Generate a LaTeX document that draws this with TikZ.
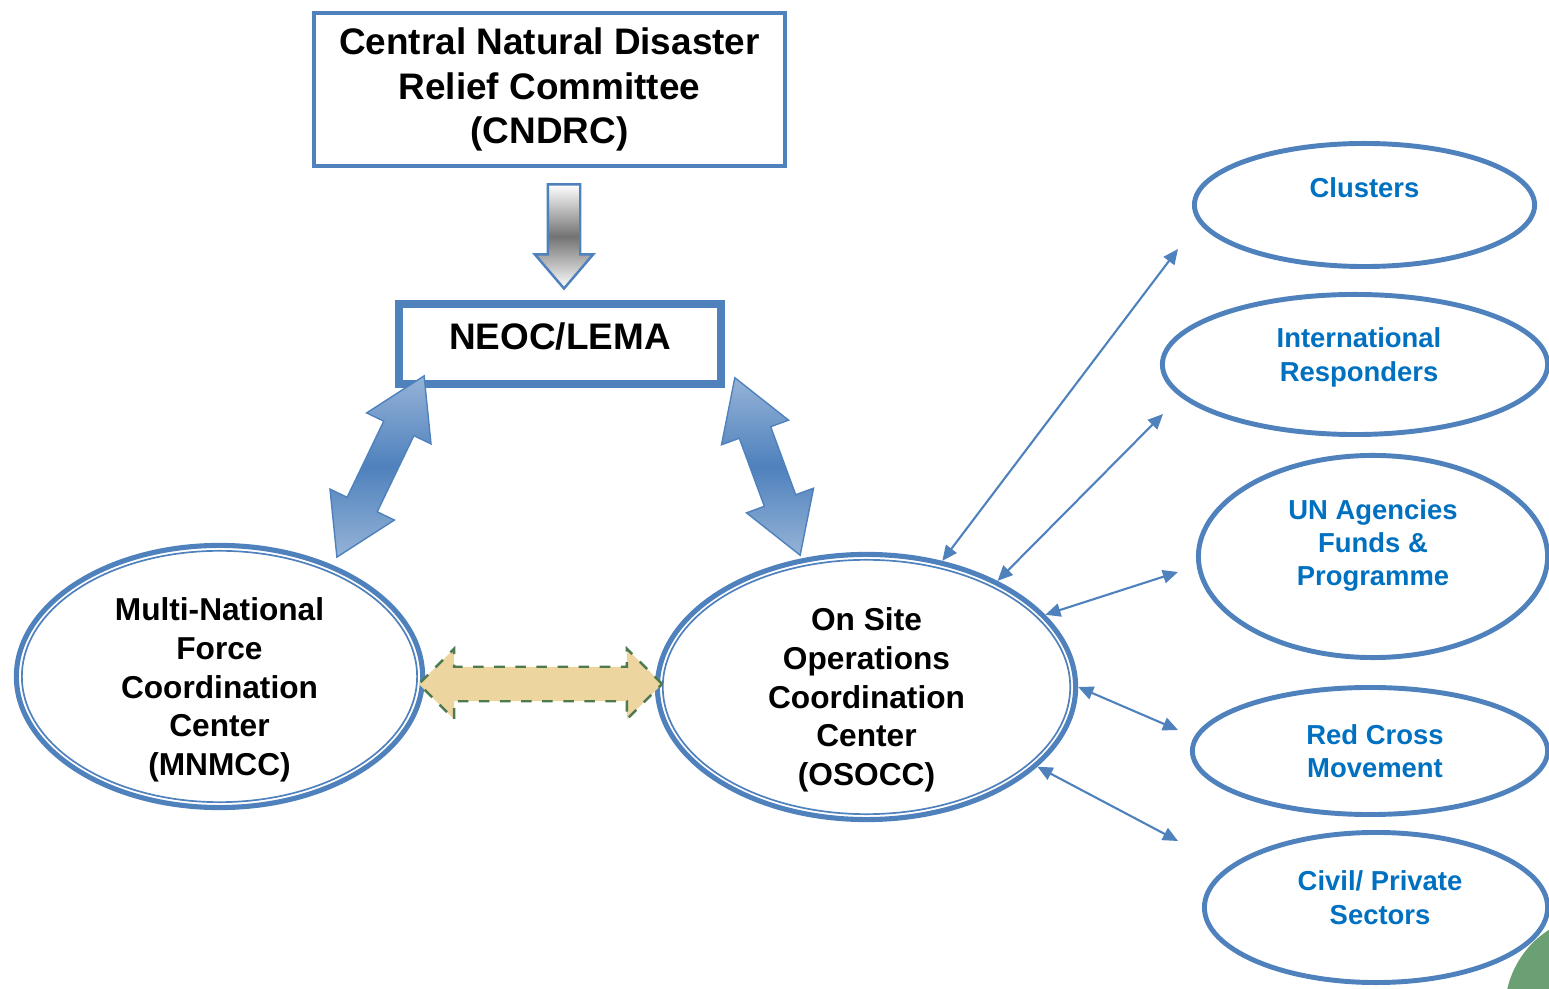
\documentclass[tikz,border=0pt]{standalone}
\usepackage{fontspec}
\setmainfont{Liberation Sans}
\usetikzlibrary{shapes.geometric,shapes.arrows,arrows.meta,calc}
\definecolor{lineBlue}{RGB}{79,129,189}
\definecolor{textBlue}{RGB}{0,112,192}
\definecolor{arrowLight}{RGB}{149,179,215}
\definecolor{tanFill}{RGB}{236,213,158}
\definecolor{dashGreen}{RGB}{78,122,80}
\definecolor{blobGreen}{RGB}{106,160,116}
\begin{document}
\begin{tikzpicture}
[x=0.01cm,y=-0.01cm,
  headBox/.style={draw=lineBlue,line width=1.15pt,minimum width=4.71cm,minimum height=1.53cm,inner sep=0pt,align=center,font=\fontsize{10.5}{12.6}\selectfont\bfseries},%
  neocBox/.style={draw=lineBlue,line width=2pt,minimum width=3.23cm,minimum height=0.81cm,inner sep=0pt,text depth=0.16cm,font=\fontsize{10.5}{12.6}\selectfont\bfseries},%
  centerOval/.style={ellipse,draw=lineBlue,line width=1.45pt,fill=white,inner sep=0pt},%
  innerLine/.style={draw=lineBlue,line width=0.48pt},%
  centerText/.style={align=center,font=\fontsize{9}{11}\selectfont\bfseries},%
  partnerOval/.style={ellipse,draw=lineBlue,line width=1.4pt,fill=white,inner sep=0pt},%
  partnerText/.style={align=center,text=textBlue,font=\fontsize{7.8}{9.5}\selectfont\bfseries},%
  thinLink/.style={{Triangle[length=4.3pt,width=3.8pt]}-{Triangle[length=4.3pt,width=3.8pt]},draw=lineBlue,line width=0.6pt},%
  grayArrow/.style={single arrow,shape border rotate=270,draw=lineBlue,line width=0.7pt,inner xsep=0.15cm,inner ysep=0pt,single arrow head extend=0.13cm,single arrow tip angle=81,minimum height=1.04cm,top color=white,bottom color=white,middle color=black!55},%
  blueArrow/.style={double arrow,draw=lineBlue,line width=0.4pt,inner xsep=0pt,inner ysep=0.16cm,double arrow head extend=0.19cm,double arrow tip angle=63,top color=arrowLight,bottom color=arrowLight,middle color=lineBlue},%
  tanArrow/.style={double arrow,draw=dashGreen,dashed,line width=0.7pt,fill=tanFill,inner xsep=0pt,inner ysep=0.16cm,double arrow head extend=0.18cm,double arrow tip angle=90}]
\useasboundingbox (0,0) rectangle (1549,989);
%% green corner behind the last oval
\fill[blobGreen] (1600,1010) circle (0.95cm);
%% boxes
\node (cndrc) at (549.5,89.5) [headBox] {Central Natural Disaster\\Relief Committee\\(CNDRC)};
\node (neoc) at (560,344) [neocBox] {NEOC/LEMA};
\draw[innerLine] ($(neoc.north west)+(7.5,7.5)$) rectangle ($(neoc.south east)+(-7.5,-7.5)$);
%% centre ovals
\node (mnmcc) at (219.5,676.5) [centerOval,minimum width=4.06cm,minimum height=2.62cm,
  label={[centerText,yshift=-0.135cm]center:{Multi-National\\Force\\Coordination\\Center\\(MNMCC)}}] {};
\draw[innerLine] (mnmcc.center) ellipse [x radius=1.975cm,y radius=1.256cm];
\node (osocc) at (866.5,687) [centerOval,minimum width=4.18cm,minimum height=2.65cm,
  label={[centerText,yshift=-0.13cm]center:{On Site\\Operations\\Coordination\\Center\\(OSOCC)}}] {};
\draw[innerLine] (osocc.center) ellipse [x radius=2.036cm,y radius=1.271cm];
%% partner ovals
\node (clusters) at (1364.5,205) [partnerOval,minimum width=3.40cm,minimum height=1.23cm,
  label={[partnerText,yshift=0.17cm]center:Clusters}] {};
\node (intl) at (1355,364.5) [partnerOval,minimum width=3.85cm,minimum height=1.40cm,
  label={[partnerText,xshift=0.04cm,yshift=0.07cm]center:{International\\Responders}}] {};
\node (unagency) at (1373,556.5) [partnerOval,minimum width=3.49cm,minimum height=2.02cm,
  label={[partnerText,yshift=0.11cm]center:{UN Agencies\\Funds \&\\Programme}}] {};
\node (redcross) at (1370,751) [partnerOval,minimum width=3.55cm,minimum height=1.27cm,
  label={[partnerText,xshift=0.05cm]center:{Red Cross\\Movement}}] {};
\node (civil) at (1376,907.5) [partnerOval,minimum width=3.43cm,minimum height=1.50cm,
  label={[partnerText,xshift=0.04cm,yshift=0.1cm]center:{Civil/ Private\\Sectors}}] {};
%% block arrows
\node (down) at (564,227) [grayArrow] {};
\node (leftLink) at (380.5,466.5) [blueArrow,minimum height=2.01cm,rotate=64.3] {};
\node (rightLink) at (767.5,466.5) [blueArrow,minimum height=1.89cm,rotate=110.2] {};
\node (sideLink) at (540.5,684) [tanArrow,minimum height=2.43cm] {};
%% free ends of the thin links
\foreach \endname/\x/\y in {clEnd/1178/249, irEnd/1163/414, unEnd/1178/572, rcEnd/1178/730, cpEnd/1178/841}
{
  \coordinate (\endname) at (\x,\y);
}
%% thin links
\path
\foreach \angle/\endname in {59.3/clEnd, 39.3/irEnd, 22/unEnd, 0/rcEnd, 335.4/cpEnd}
{
  (osocc.\angle) edge[thinLink] (\endname)
};
\end{tikzpicture}
\end{document}
